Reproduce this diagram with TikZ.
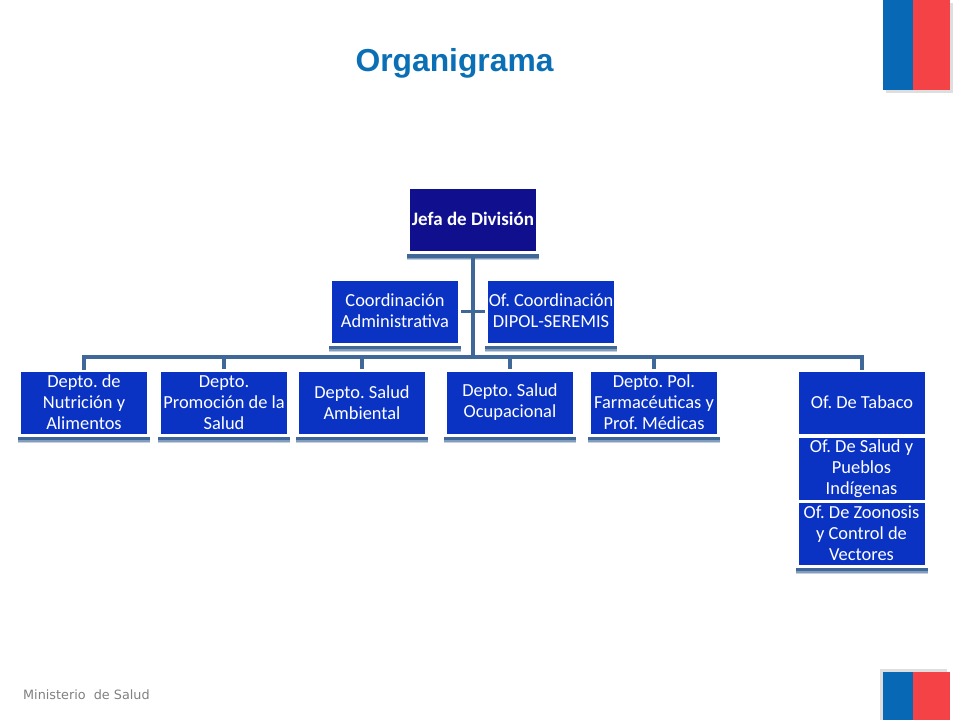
\documentclass[tikz,border=0pt]{standalone}
\usepackage{fontspec}
\setmainfont{Carlito}
\newfontfamily\titlefont{Liberation Sans}
\newfontfamily\footfont{DejaVu Sans}
\frenchspacing
\usetikzlibrary{shadows}
\definecolor{boxblue}{HTML}{0A33C4}
\definecolor{topblue}{HTML}{10108F}
\definecolor{linkblue}{HTML}{3F6797}
\definecolor{titleblue}{HTML}{0B6FB5}
\definecolor{flagblue}{HTML}{0768B6}
\definecolor{flagred}{HTML}{F44247}
\tikzset{
  plainbox/.style={rectangle,fill=boxblue,draw=white,line width=3pt,inner sep=0pt,outer sep=1.5pt,
    minimum width=129pt,minimum height=65pt,text=white,font=\fontsize{18.4}{21}\selectfont,
    align=center},
  orgbox/.style={plainbox,
    general shadow={fill=black!10,draw=black!10,shadow xshift=0pt,shadow yshift=0pt,scale=1.02},
    general shadow={fill=linkblue!30,draw=linkblue!30,shadow xshift=0pt,shadow yshift=-6pt,xscale=.99},
    general shadow={fill=linkblue!65,draw=linkblue!65,shadow xshift=0pt,shadow yshift=-5pt,xscale=.98},
    general shadow={fill=linkblue,draw=linkblue,shadow xshift=0pt,shadow yshift=-3.5pt,xscale=.97}},
  topbox/.style={orgbox,fill=topblue,font=\fontsize{19}{21}\selectfont\bfseries},
  link/.style={draw=linkblue,line width=3.5pt},
}
\begin{document}
\begin{tikzpicture}[x=1pt,y=-1pt]
\useasboundingbox (0,0) rectangle (960,720);
\fill[white] (0,0) rectangle (960,720);
% flags
\fill[black!13] (886,3) rectangle (953,93);
\fill[flagblue] (883,0) rectangle (913,90);
\fill[flagred] (913,0) rectangle (950,90);
\fill[black!13] (880,669) rectangle (947,720);
\fill[flagblue] (883,672) rectangle (913,720);
\fill[flagred] (913,672) rectangle (950,720);
% texts
\node[text=titleblue,font=\titlefont\fontsize{31.8}{34}\selectfont\bfseries] (title) at (454.5,63.5) {Organigrama};
\node[text=black!50,font=\footfont\fontsize{12.8}{14}\selectfont,anchor=west,inner sep=0pt] (foot) at (23,695) {Ministerio\ \ de Salud};
% boxes
\node[topbox] (jefa) at (473,220) {\raisebox{2.5pt}{Jefa de División}};
\node[orgbox] (adm) at (395,311.5) {\raisebox{1pt}{Coordinación}\\\raisebox{1pt}{Administrativa}};
\node[orgbox] (dipol) at (551,311.5) {\raisebox{1pt}{Of. Coordinación}\\\raisebox{1pt}{DIPOL-SEREMIS}};
\node[orgbox] (nut) at (84,402.5) {\raisebox{1pt}{Depto. de}\\\raisebox{1pt}{Nutrición y}\\\raisebox{1pt}{Alimentos}};
\node[orgbox] (pro) at (224,402.5) {Depto.\\Promoción de la\\Salud};
\node[orgbox] (amb) at (362,402.5) {Depto. Salud\\Ambiental};
\node[orgbox] (ocu) at (510,402.5) {Depto. Salud\\Ocupacional};
\node[orgbox] (far) at (654,402.5) {Depto. Pol.\\Farmacéuticas y\\Prof. Médicas};
\node[plainbox] (tab) at (862,402.5) {\raisebox{1.5pt}{Of. De Tabaco}};
\node[plainbox] (pue) at (861.5,469) {Of. De Salud y\\Pueblos\\Indígenas};
\node[orgbox] (zoo) at (861.5,533.5) {Of. De Zoonosis\\y Control de\\Vectores};
% connectors
\coordinate (bus) at (473,357);
\draw[link] (jefa.south) -- (bus);
\draw[link] (adm.east) -- (dipol.west);
\draw[link,line cap=rect] (nut.north) |- (bus) -| (tab.north);
\draw[link] (pro.north) -- (pro.north |- bus);
\draw[link] (amb.north) -- (amb.north |- bus);
\draw[link] (ocu.north) -- (ocu.north |- bus);
\draw[link] (far.north) -- (far.north |- bus);
\end{tikzpicture}
\end{document}
